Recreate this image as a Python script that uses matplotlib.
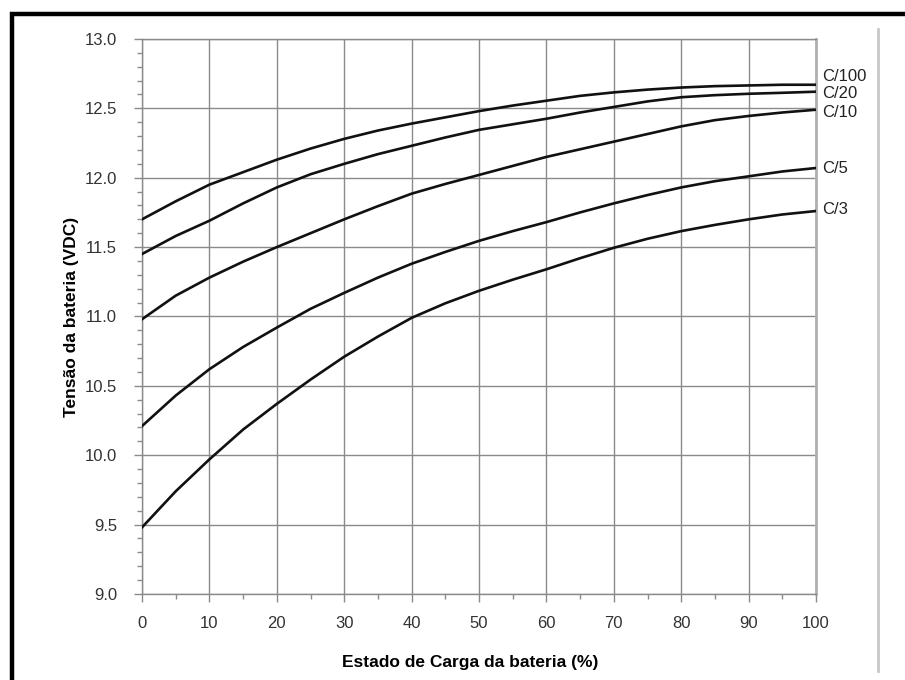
import numpy as np
import matplotlib.pyplot as plt
from matplotlib.patches import Rectangle
from matplotlib.lines import Line2D

plt.rcParams['font.family'] = ['Liberation Sans', 'DejaVu Sans']

# state of charge (%) and battery voltage for each discharge rate
soc = [0, 5, 10, 15, 20, 25, 30, 35, 40, 45, 50,
       55, 60, 65, 70, 75, 80, 85, 90, 95, 100]
v_c100 = [11.70, 11.83, 11.95, 12.04, 12.13, 12.21, 12.28, 12.34, 12.39, 12.435, 12.48,
          12.52, 12.555, 12.59, 12.615, 12.635, 12.65, 12.66, 12.665, 12.67, 12.67]
v_c20 = [11.45, 11.58, 11.69, 11.815, 11.93, 12.025, 12.10, 12.17, 12.23, 12.29, 12.345,
         12.385, 12.425, 12.47, 12.51, 12.55, 12.58, 12.595, 12.605, 12.612, 12.62]
v_c10 = [10.98, 11.15, 11.28, 11.395, 11.50, 11.60, 11.70, 11.795, 11.885, 11.955, 12.02,
         12.085, 12.15, 12.205, 12.26, 12.315, 12.37, 12.415, 12.445, 12.47, 12.49]
v_c5 = [10.21, 10.43, 10.62, 10.78, 10.92, 11.055, 11.17, 11.28, 11.38, 11.465, 11.545,
        11.615, 11.68, 11.75, 11.815, 11.875, 11.93, 11.975, 12.01, 12.045, 12.07]
v_c3 = [9.48, 9.74, 9.97, 10.185, 10.37, 10.545, 10.71, 10.855, 10.99, 11.095, 11.185,
        11.265, 11.34, 11.42, 11.495, 11.56, 11.615, 11.66, 11.70, 11.735, 11.76]

series = [v_c100, v_c20, v_c10, v_c5, v_c3]
labels = ['C/100', 'C/20', 'C/10', 'C/5', 'C/3']
label_y = [12.73, 12.61, 12.47, 12.07, 11.77]

fig = plt.figure(figsize=(9.05, 6.8), dpi=100)
ax = fig.add_axes([0.1569, 0.1265, 0.7448, 0.8162])

for v in series:
    ax.plot(soc, v, color='#111111', lw=1.9, solid_joinstyle='round', zorder=3)

for lab, y in zip(labels, label_y):
    ax.text(100.9, y, lab, fontsize=12, color='#222222', va='center', ha='left',
            clip_on=False)

ax.set_xlim(0, 100)
ax.set_ylim(9.0, 13.0)
ax.set_xticks(np.arange(0, 101, 10))
ax.set_xticks(np.arange(5, 100, 10), minor=True)
ax.set_yticks(np.arange(9.0, 13.01, 0.5))
ax.set_yticks(np.arange(9.1, 13.0, 0.1), minor=True)
ax.set_yticklabels(['%.1f' % t for t in np.arange(9.0, 13.01, 0.5)])

ax.grid(True, which='major', color='#8a8a8a', lw=1.0)
ax.tick_params(which='major', length=6, width=1, color='#8a8a8a',
               labelsize=12, labelcolor='#333333')
ax.tick_params(axis='y', which='major', pad=12)
ax.tick_params(axis='x', which='major', pad=10)
ax.tick_params(which='minor', length=3.5, width=1, color='#8a8a8a')
for side in ['left', 'bottom', 'top']:
    ax.spines[side].set_color('#8a8a8a')
    ax.spines[side].set_linewidth(1.0)
ax.spines['right'].set_color('#b0b0b0')
ax.spines['right'].set_linewidth(2.0)

ax.set_xlabel('Estado de Carga da bateria (%)', fontsize=12.5, fontweight='bold')
ax.set_ylabel('Tensão da bateria (VDC)', fontsize=12.5, fontweight='bold')
ax.xaxis.set_label_coords(0.487, -0.11)
ax.yaxis.set_label_coords(-0.093, 0.5)

# outer frame and separator line
fig.patches.append(Rectangle((12 / 905, -0.1), 1.2, 1.1 - 14.5 / 680,
                             transform=fig.transFigure, fill=False,
                             edgecolor='black', lw=3.2))
fig.lines.append(Line2D([878 / 905, 878 / 905], [1 - 29 / 680, 1 - 671 / 680],
                        transform=fig.transFigure, color='#c8c8c8', lw=2))

fig.savefig('out.png', dpi=100)
